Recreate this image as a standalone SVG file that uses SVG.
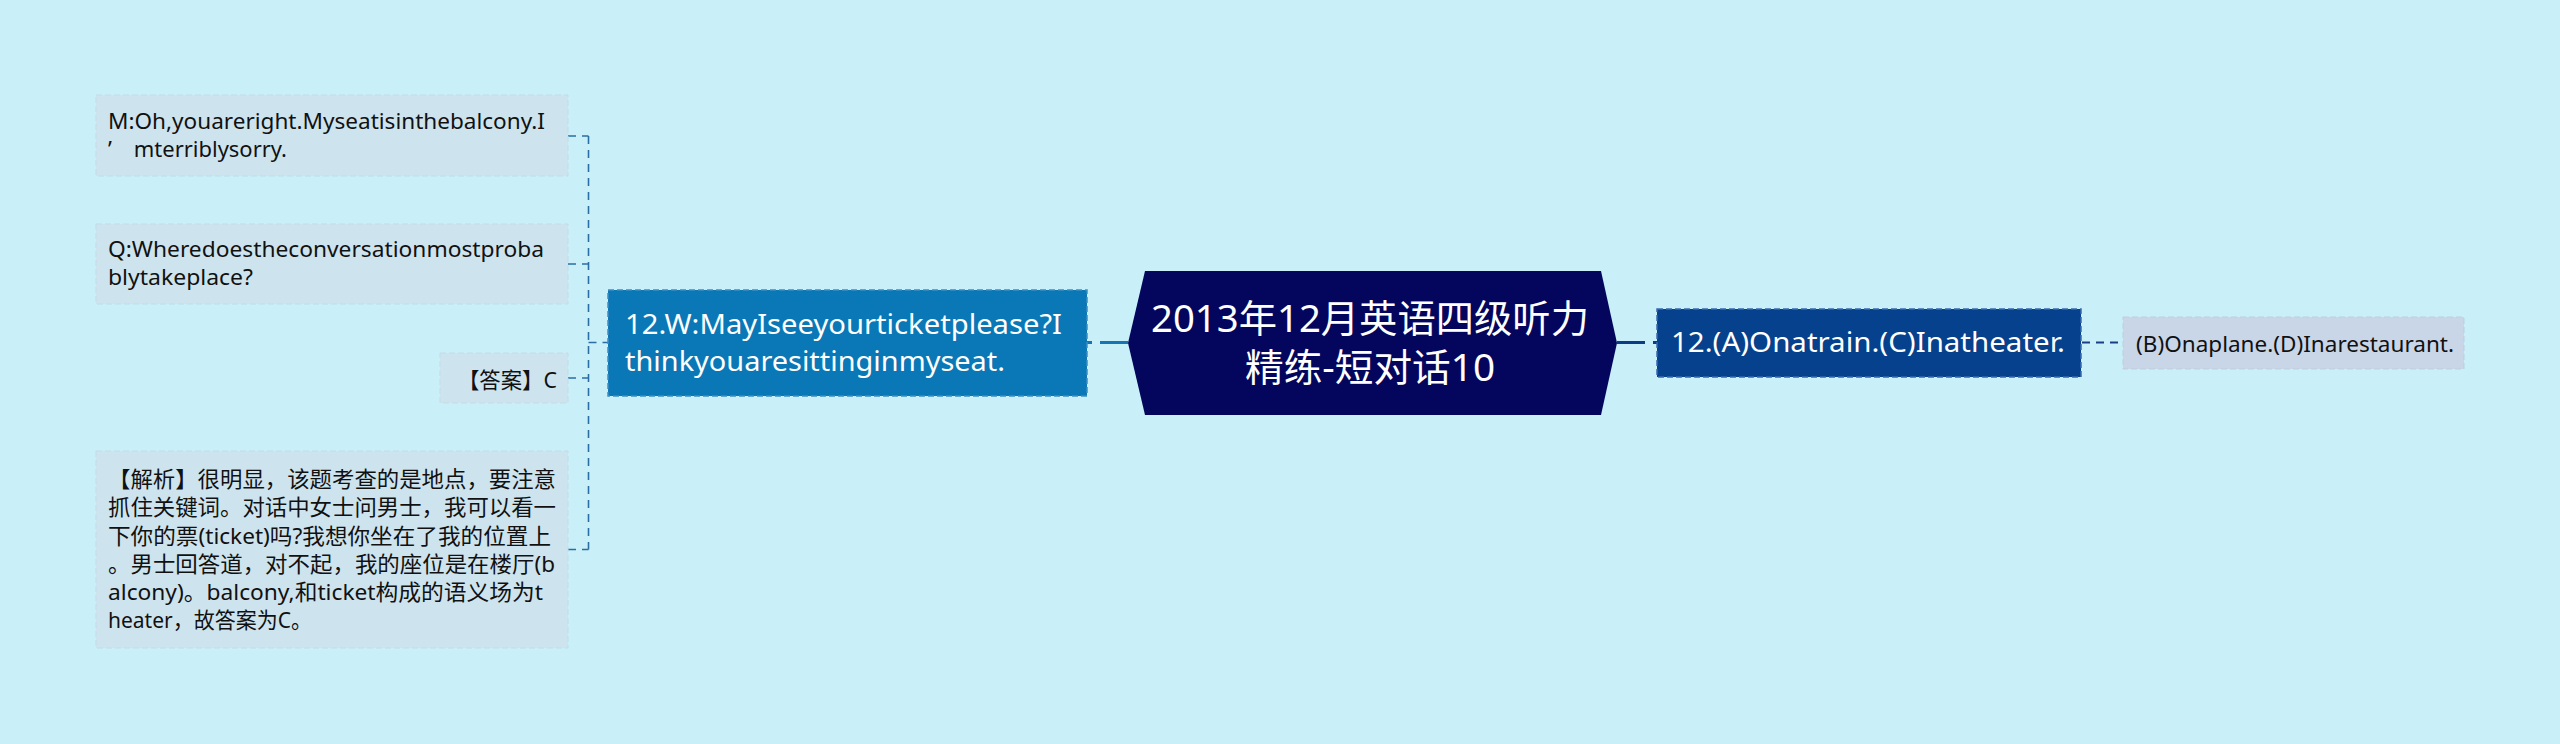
<svg xmlns="http://www.w3.org/2000/svg" width="2560" height="744" viewBox="0 0 2560 744">
<defs>
<style>
.t{font-family:"Noto Sans","Noto Sans CJK SC",sans-serif}
.leaf{fill:#cde4ef;stroke:#c2dbe9;stroke-width:1;stroke-dasharray:6 3}
.leafB{fill:#c9d6e8;stroke:#bfcde0;stroke-width:1;stroke-dasharray:6 3}
.dark{fill:#111111;font-size:22px}
.wt{fill:#ffffff}
.cl{fill:none;stroke:#2b6ea5;stroke-width:1.6;stroke-dasharray:8 6}
</style>
</defs>
<rect x="0" y="0" width="2560" height="744" fill="#c9f0f8"/>

<g id="connectors">
  <line x1="1128" y1="342.5" x2="1087" y2="342.5" stroke="#1873b3" stroke-width="3" stroke-dasharray="28 8"/>
  <line x1="1617" y1="342.5" x2="1657" y2="342.5" stroke="#0b3c85" stroke-width="3" stroke-dasharray="28 8"/>
  <line x1="2082" y1="342.5" x2="2123" y2="342.5" stroke="#1b3f86" stroke-width="1.8" stroke-dasharray="8 6"/>
  <path class="cl" d="M588.5 136 V549.5"/>
  <path class="cl" d="M568 136 H588.5"/>
  <path class="cl" d="M568 264 H588.5"/>
  <path class="cl" d="M568 378 H588.5"/>
  <path class="cl" d="M568 549.5 H588.5"/>
  <path class="cl" d="M588.5 342.5 H608"/>
</g>

<g id="center">
  <polygon points="1128,343 1145,271 1601,271 1617,343 1601,415 1145,415" fill="#03065c"/>
  <text class="t wt" x="1151" y="332" font-size="38" textLength="438" lengthAdjust="spacingAndGlyphs">2013年12月英语四级听力</text>
  <text class="t wt" x="1245" y="381" font-size="38" textLength="250" lengthAdjust="spacingAndGlyphs">精练-短对话10</text>
</g>

<g id="node-w">
  <rect x="608" y="290" width="479" height="106" fill="#0a78b6" stroke="#3d8fc4" stroke-width="1.5" stroke-dasharray="6 3"/>
  <text class="t wt" x="625" y="334" font-size="28" textLength="437" lengthAdjust="spacingAndGlyphs">12.W:MayIseeyourticketplease?I</text>
  <text class="t wt" x="625" y="371" font-size="28" textLength="380" lengthAdjust="spacingAndGlyphs">thinkyouaresittinginmyseat.</text>
</g>

<g id="node-a">
  <rect x="1657" y="309" width="424" height="68" fill="#05418c" stroke="#3a6aae" stroke-width="1.5" stroke-dasharray="6 3"/>
  <text class="t wt" x="1671" y="352" font-size="28" textLength="394" lengthAdjust="spacingAndGlyphs">12.(A)Onatrain.(C)Inatheater.</text>
</g>

<g id="node-b">
  <rect class="leafB" x="2123" y="317" width="341" height="52"/>
  <text class="t dark" x="2136" y="352" textLength="318" lengthAdjust="spacingAndGlyphs">(B)Onaplane.(D)Inarestaurant.</text>
</g>

<g id="node-m">
  <rect class="leaf" x="96" y="95" width="472" height="81"/>
  <text class="t dark" x="108" y="128.5" textLength="437" lengthAdjust="spacingAndGlyphs">M:Oh,youareright.Myseatisinthebalcony.I</text>
  <text class="t dark" x="108" y="157" textLength="179" lengthAdjust="spacingAndGlyphs">’　mterriblysorry.</text>
</g>

<g id="node-q">
  <rect class="leaf" x="96" y="224" width="472" height="80"/>
  <text class="t dark" x="108" y="257" textLength="436" lengthAdjust="spacingAndGlyphs">Q:Wheredoestheconversationmostproba</text>
  <text class="t dark" x="108" y="285" textLength="145" lengthAdjust="spacingAndGlyphs">blytakeplace?</text>
</g>

<g id="node-answer">
  <rect class="leaf" x="440" y="353" width="128" height="50"/>
  <text class="t dark" x="458" y="388" textLength="99" lengthAdjust="spacingAndGlyphs">【答案】C</text>
</g>

<g id="node-analysis">
  <rect class="leaf" x="96" y="451" width="472" height="197"/>
  <text class="t dark" x="108" y="487" textLength="448" lengthAdjust="spacingAndGlyphs">【解析】很明显，该题考查的是地点，要注意</text>
  <text class="t dark" x="108" y="515" textLength="448" lengthAdjust="spacingAndGlyphs">抓住关键词。对话中女士问男士，我可以看一</text>
  <text class="t dark" x="108" y="543.5" textLength="443" lengthAdjust="spacingAndGlyphs">下你的票(ticket)吗?我想你坐在了我的位置上</text>
  <text class="t dark" x="108" y="572" textLength="447" lengthAdjust="spacingAndGlyphs">。男士回答道，对不起，我的座位是在楼厅(b</text>
  <text class="t dark" x="108" y="600" textLength="435" lengthAdjust="spacingAndGlyphs">alcony)。balcony,和ticket构成的语义场为t</text>
  <text class="t dark" x="108" y="628" textLength="204" lengthAdjust="spacingAndGlyphs">heater，故答案为C。</text>
</g>
</svg>
